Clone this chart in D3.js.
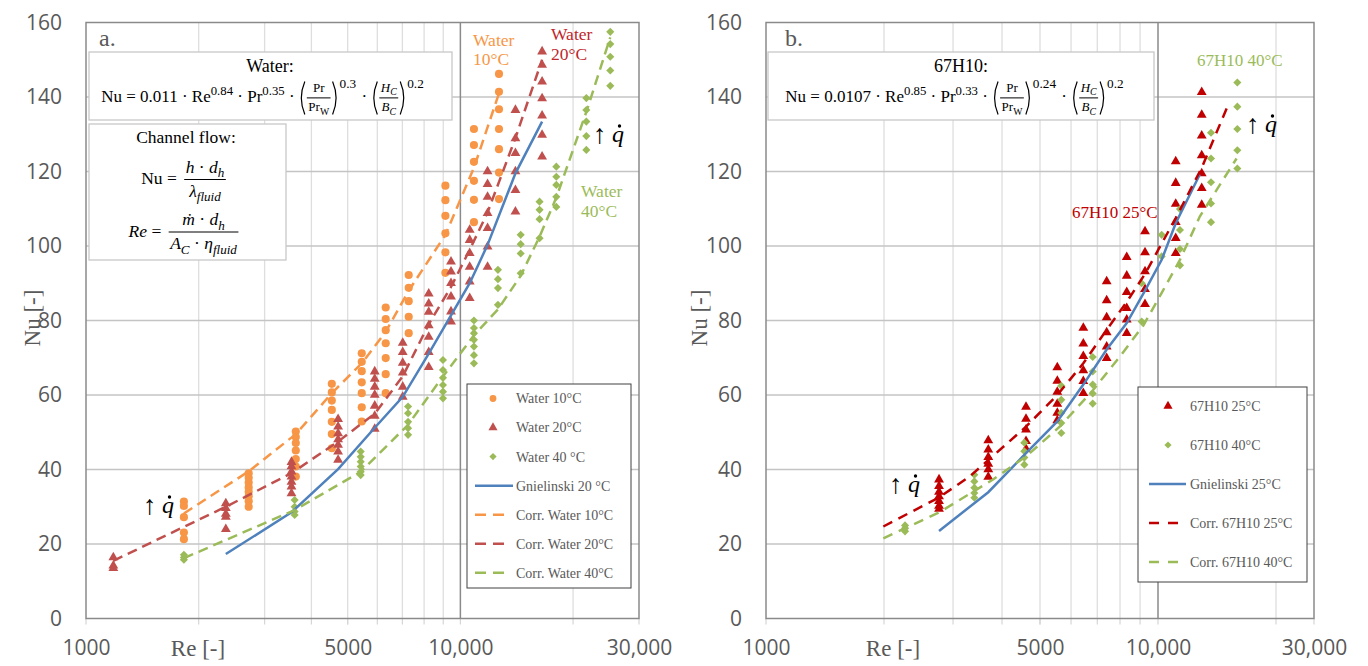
<!DOCTYPE html>
<html>
<head>
<meta charset="utf-8">
<script src="https://cdn.jsdelivr.net/npm/d3@7"></script>
<style>
  body { margin: 0; background: #fff; }
  svg text { font-family: "Liberation Serif", "DejaVu Serif", serif; }
</style>
</head>
<body>
<div id="chart"></div>
<script>
// ---------- panel a: water (Re column, Nu values per column) ----------
var water10Re = [1826, 2720, 3634, 4535, 5452, 6318, 7278, 9120, 10870, 12680];
var water10Nu = [
  [31.4, 30.2, 27.2, 23.1, 21.3],
  [39.0, 37.8, 36.5, 35.2, 34.0, 32.8, 31.5, 30.0],
  [50.2, 48.7, 47.1, 45.1, 42.8, 40.8, 38.1],
  [63.0, 60.7, 58.5, 56.0, 52.8, 49.5, 45.7],
  [71.2, 68.9, 66.4, 63.4, 60.5, 56.7, 52.9],
  [83.5, 80.4, 77.4, 73.9, 69.9, 65.6, 60.5],
  [92.2, 88.8, 85.2, 81.0, 76.6],
  [116.2, 112.3, 108.1, 103.4, 98.3, 92.8],
  [131.4, 127.1, 122.6, 117.5, 112.4, 106.4],
  [146.2, 141.4, 136.7, 131.4, 126.0, 119.7, 112.6]
];
var corrWater10Nu = [28.2, 39.5, 49.5, 60.5, 68.5, 77, 88, 103, 121, 141];

var water20Re = [1183, 2363, 3539, 4714, 5905, 7015, 8231, 9440, 10590, 11820, 14030, 16530];
var water20Nu = [
  [16.4, 14.2, 13.5],
  [30.9, 29.6, 28.1, 27.3, 24.0],
  [42.0, 40.8, 39.4, 38.1, 36.7, 35.4, 33.6],
  [53.5, 51.5, 49.7, 48.1, 46.6, 44.8, 42.6],
  [66.3, 64.3, 62.2, 60.0, 57.1, 54.4, 50.9],
  [74.0, 71.5, 68.6, 66.0, 62.2, 59.5],
  [87.2, 84.5, 82.3, 78.7, 75.6, 71.5, 67.5],
  [95.8, 93.1, 90.0, 86.4, 82.4, 79.7],
  [104.3, 101.6, 98.1, 94.4, 90.4, 86.0],
  [120.0, 116.6, 113.2, 108.8, 104.8, 99.8, 94.4],
  [136.5, 128.9, 124.9, 120.0, 115.0, 109.2],
  [152.2, 148.6, 144.1, 139.6, 135.0, 129.8, 124.0]
];
var corrWater20Nu = [15.5, 30, 39, 47.5, 55, 65, 79, 89, 99, 109, 129, 150];

var water40Re = [1826, 3608, 5417, 7249, 8985, 10870, 12600, 14490, 16275, 18040, 21700, 25140];
var water40Nu = [
  [17.1, 16.4, 15.8],
  [31.8, 30.0, 28.7, 27.8],
  [44.8, 43.4, 42.1, 40.8, 39.4, 38.5],
  [56.9, 55.1, 52.8, 51.1, 49.3],
  [69.4, 66.7, 64.6, 62.7, 60.9, 59.1],
  [80.0, 78.0, 76.6, 74.8, 73.0, 70.7, 68.5],
  [93.6, 91.1, 88.7, 84.2],
  [103.0, 100.5, 98.0, 92.7],
  [111.9, 109.7, 107.2, 102.1],
  [121.3, 118.6, 116.4, 113.2, 110.5],
  [139.7, 136.5, 133.4, 129.5, 125.8],
  [157.5, 154.2, 150.8, 147.1, 143.0]
];
var corrWater40Nu = [16.2, 29.1, 39.4, 52, 65, 76, 83, 92, 102.5, 113, 136, 156];

var gnielinski20Re = [2363, 3539, 4714, 5905, 7015, 8231, 9440, 10590, 11820, 14030, 16530];
var gnielinski20Nu = [17.3, 28.5, 40.1, 51.2, 59.5, 71.1, 81.4, 90.0, 100.3, 119.5, 133.4];

// ---------- panel b: 67H10 ----------
var h25Re = [2763, 3690, 4606, 5535, 6449, 7397, 8322, 9265, 11097, 12928];
var h25Nu = [
  [37.3, 35.5, 34.0, 32.8, 31.5, 30.2, 29.4],
  [47.8, 45.3, 43.3, 41.5, 40.0, 38.0],
  [56.8, 53.6, 50.7, 47.6, 45.5],
  [67.4, 63.8, 60.8, 57.6, 55.2, 53.2],
  [78.0, 73.8, 70.4, 66.6, 63.7, 60.5],
  [90.5, 85.4, 80.8, 76.8, 73.0, 69.9],
  [97.0, 92.0, 87.6, 83.3, 80.2, 76.6],
  [103.9, 98.3, 93.2, 88.4, 84.4],
  [122.7, 116.9, 111.3, 106.4, 102.1, 98.1],
  [141.3, 135.2, 129.6, 124.3, 119.5, 115.5, 111.0]
];
var h40Re = [2263, 3400, 4560, 5666, 6815, 9086, 10218, 11378, 13652, 15936];
var h40Nu = [
  [25.0, 24.2, 23.4],
  [38.6, 36.8, 35.1, 33.7, 32.4],
  [47.2, 44.9, 43.2, 41.3],
  [62.5, 58.7, 55.2, 52.5, 49.8],
  [70.2, 66.3, 62.8, 60.4, 57.7],
  [90.0, 79.7],
  [103.0, 97.2],
  [109.9, 104.3, 99.2, 94.8],
  [130.4, 123.5, 117.1, 111.4, 106.4],
  [143.9, 137.4, 131.4, 125.7, 120.8]
];
var gnielinski25Re = [2763, 3690, 4606, 5535, 6449, 7397, 8322, 9265, 10218, 11097, 12780];
var gnielinski25Nu = [23.5, 33.9, 44.4, 52.9, 62.8, 72.2, 79.3, 88.0, 96.3, 106.1, 119.2];
var corr25Re = [1992, 2763, 3316, 4606, 5535, 6449, 7397, 8322, 9265, 11097, 12928, 15114];
var corr25Nu = [24.7, 32.5, 38.2, 51.5, 60, 68.5, 77.5, 85, 92.5, 107.5, 121, 138];
var corr40Re = [1992, 2777, 3794, 4606, 5627, 6840, 8004, 9165, 10218, 11378, 12780, 15866];
var corr40Nu = [21.5, 28.6, 37.3, 43.5, 51.6, 61.4, 70.4, 78.6, 87.4, 96.3, 107.9, 123.5];

// ---------- axes ----------
var yTicks = [0, 20, 40, 60, 80, 100, 120, 140, 160];
var xGrid = [2000, 3000, 4000, 5000, 6000, 7000, 8000, 9000, 20000];
var xTicksA = [1000, 5000, 10000, 30000];
var xTicksB = [1000, 5000, 10000, 25000];   // panel b axis stops at 25,000 but the end label reads 30,000
var xTickText = ["1000", "5000", "10,000", "30,000"];

var orange = "#F79646", red = "#C0504D", green = "#9BBB59", blue = "#4F81BD", darkRed = "#C00000",
    grey = "#595959";

var svg = d3.select("#chart").append("svg")
    .attr("width", 1368)
    .attr("height", 666);

var y = d3.scaleLinear().domain([0, 160]).range([618.5, 22.5]);
var xA = d3.scaleLog().domain([1000, 30000]).range([86, 639]);
var xB = d3.scaleLog().domain([1000, 25000]).range([766, 1314]);

function drawFrame(x, ticks) {
  var g = svg.append("g");
  var x0 = x.range()[0], x1 = x.range()[1];

  g.selectAll(null).data(xGrid).enter().append("line")
    .attr("x1", x).attr("x2", x)
    .attr("y1", y(0)).attr("y2", y(160))
    .attr("stroke", "#dedede").attr("stroke-width", 1.3);

  // little marks below the axis
  g.selectAll(null).data(xGrid.concat(ticks)).enter().append("line")
    .attr("x1", x).attr("x2", x)
    .attr("y1", y(0)).attr("y2", y(0) + 6)
    .attr("stroke", "#d6d6d6").attr("stroke-width", 1.2);

  g.selectAll(null).data(yTicks.slice(1, -1)).enter().append("line")
    .attr("x1", x0).attr("x2", x1)
    .attr("y1", y).attr("y2", y)
    .attr("stroke", "#c4c4c4").attr("stroke-width", 1.3);

  g.append("line")
    .attr("x1", x(10000)).attr("x2", x(10000))
    .attr("y1", y(0)).attr("y2", y(160))
    .attr("stroke", "#8a8a8a").attr("stroke-width", 1.5);

  g.append("rect")
    .attr("x", x0).attr("y", y(160))
    .attr("width", x1 - x0).attr("height", y(0) - y(160))
    .attr("fill", "none").attr("stroke", "#8a8a8a").attr("stroke-width", 1.5);

  var ax = svg.append("g")
    .attr("transform", "translate(0," + y(0) + ")")
    .call(d3.axisBottom(x).tickValues(ticks)
      .tickFormat(function(d, i) { return xTickText[i]; })
      .tickSize(0).tickPadding(22));
  ax.select(".domain").remove();

  var ay = svg.append("g")
    .attr("transform", "translate(" + x0 + ",0)")
    .call(d3.axisLeft(y).tickValues(yTicks).tickSize(0).tickPadding(24));
  ay.select(".domain").remove();

  svg.selectAll(".tick text")
    .style("font-family", "'Open Sans', sans-serif")
    .style("font-size", "21px")
    .attr("fill", grey);
}

function drawColumns(g, x, reArr, nuArr, type, size, color, rotate) {
  var pts = [];
  reArr.forEach(function(re, i) {
    nuArr[i].forEach(function(nu) { pts.push([re, nu]); });
  });
  g.selectAll(null).data(pts).enter().append("path")
    .attr("d", d3.symbol().type(type).size(size))
    .attr("transform", function(d) {
      return "translate(" + x(d[0]) + "," + y(d[1]) + ")" + (rotate ? " rotate(45)" : "");
    })
    .attr("fill", color);
}

function drawLine(g, x, reArr, nuArr, color, dash) {
  g.append("path")
    .datum(d3.zip(reArr, nuArr))
    .attr("d", d3.line().x(function(d) { return x(d[0]); }).y(function(d) { return y(d[1]); }))
    .attr("fill", "none")
    .attr("stroke", color)
    .attr("stroke-width", 2.5)
    .attr("stroke-dasharray", dash);
}

drawFrame(xA, xTicksA);
drawFrame(xB, xTicksB);

var dataA = svg.append("g");
drawColumns(dataA, xA, water10Re, water10Nu, d3.symbolCircle, 52, orange);
drawColumns(dataA, xA, water20Re, water20Nu, d3.symbolTriangle, 42, red);
drawColumns(dataA, xA, water40Re, water40Nu, d3.symbolSquare, 33, green, true);
drawLine(dataA, xA, gnielinski20Re, gnielinski20Nu, blue, null);
drawLine(dataA, xA, water10Re, corrWater10Nu, orange, "10,6");
drawLine(dataA, xA, water20Re, corrWater20Nu, red, "10,6");
drawLine(dataA, xA, water40Re, corrWater40Nu, green, "10,6");

var dataB = svg.append("g");
drawColumns(dataB, xB, h25Re, h25Nu, d3.symbolTriangle, 42, darkRed);
drawColumns(dataB, xB, h40Re, h40Nu, d3.symbolSquare, 33, green, true);
drawLine(dataB, xB, gnielinski25Re, gnielinski25Nu, blue, null);
drawLine(dataB, xB, corr25Re, corr25Nu, darkRed, "10,7");
drawLine(dataB, xB, corr40Re, corr40Nu, green, "10,7");

// ---------- axis titles and panel letters ----------
function label(x, yy, txt, size, color, anchor) {
  return svg.append("text")
    .attr("x", x).attr("y", yy)
    .attr("text-anchor", anchor || "start")
    .style("font-size", size + "px")
    .attr("fill", color)
    .text(txt);
}
label(198, 656, "Re [-]", 23, grey, "middle");
label(893, 656, "Re [-]", 23, grey, "middle");
label(0, 0, "Nu [-]", 23, grey, "middle").attr("transform", "translate(40,318) rotate(-90)");
label(0, 0, "Nu [-]", 23, grey, "middle").attr("transform", "translate(707,318) rotate(-90)");
label(99, 46, "a.", 24, grey);
label(785, 46, "b.", 24, grey);

// series annotations
label(473, 46, "Water", 17.5, orange);
label(473, 65, "10°C", 17.5, orange);
label(551, 40, "Water", 17.5, "#C0262B");
label(551, 60, "20°C", 17.5, "#C0262B");
label(581, 197, "Water", 17.5, green);
label(581, 217, "40°C", 17.5, green);
label(1072, 218, "67H10 25°C", 17, darkRed);
label(1197, 66, "67H10 40°C", 17, green);

function qdot(x, yb) {
  label(x - 1, yb + 1, "↑", 27, "#000");
  label(x + 18, yb, "q", 24, "#000").style("font-style", "italic");
  svg.append("circle").attr("cx", x + 25.5).attr("cy", yb - 16).attr("r", 1.7).attr("fill", "#000");
}
qdot(594, 142);
qdot(144, 513);
qdot(890, 492);
qdot(1247, 132);

// ---------- equation boxes ----------
function addRuns(text, runs, fs) {
  var shift = 0;
  runs.forEach(function(r) {
    var f = r[1] || "";
    var target = f.indexOf("p") >= 0 ? -0.4 * fs : (f.indexOf("b") >= 0 ? 0.28 * fs : 0);
    text.append("tspan")
      .attr("dy", target - shift)
      .style("font-size", (target ? fs * 0.75 : fs) + "px")
      .style("font-style", f.indexOf("i") >= 0 ? "italic" : null)
      .text(r[0]);
    shift = target;
  });
}

function equation(cx, yb, items, fs, ffs, geo) {
  var g = svg.append("g");
  var x = 0;
  items.forEach(function(it) {
    if (it.runs) {
      var t = g.append("text").attr("x", x).attr("y", yb)
        .style("font-size", fs + "px").style("white-space", "pre");
      addRuns(t, it.runs, fs);
      x += t.node().getComputedTextLength();
      return;
    }
    var gx = x + (it.paren ? 8 : 3);
    var num = g.append("text").attr("y", yb + geo.num).attr("text-anchor", "middle")
      .style("font-size", ffs + "px").style("white-space", "pre");
    addRuns(num, it.num, ffs);
    var den = g.append("text").attr("y", yb + geo.den).attr("text-anchor", "middle")
      .style("font-size", ffs + "px").style("white-space", "pre");
    addRuns(den, it.den, ffs);
    var w = Math.max(num.node().getComputedTextLength(), den.node().getComputedTextLength()) + 3;
    num.attr("x", gx + w / 2);
    den.attr("x", gx + w / 2);
    g.append("line")
      .attr("x1", gx).attr("x2", gx + w)
      .attr("y1", yb + geo.bar).attr("y2", yb + geo.bar)
      .attr("stroke", "#000").attr("stroke-width", 1);
    x = gx + w + 3;
    if (it.paren) {
      var top = yb - 20, bot = yb + 13, mid = (top + bot) / 2;
      g.append("path")
        .attr("d", "M" + (gx - 2) + "," + top + "Q" + (gx - 9) + "," + mid + " " + (gx - 2) + "," + bot)
        .attr("fill", "none").attr("stroke", "#000").attr("stroke-width", 1.2);
      g.append("path")
        .attr("d", "M" + (gx + w + 2) + "," + top + "Q" + (gx + w + 9) + "," + mid + " " + (gx + w + 2) + "," + bot)
        .attr("fill", "none").attr("stroke", "#000").attr("stroke-width", 1.2);
      x = gx + w + 8;
    }
    if (it.sup) {
      var s = g.append("text").attr("x", x + 1).attr("y", yb - 14)
        .style("font-size", (fs * 0.78) + "px").text(it.sup);
      x += s.node().getComputedTextLength() + 2;
    }
  });
  g.attr("transform", "translate(" + (cx - x / 2) + ",0)");
}

function box(x, yy, w, h, stroke) {
  svg.append("rect")
    .attr("x", x).attr("y", yy).attr("width", w).attr("height", h)
    .attr("fill", "#fff").attr("stroke", stroke).attr("stroke-width", 1.3);
}

var smallFrac = { num: -9.8, bar: -3.6, den: 9.6 };
var bigFrac = { num: -11.5, bar: -4.5, den: 12.5 };

box(89, 52, 363, 68, "#c8c8c8");
label(270, 71.5, "Water:", 18, "#000", "middle");
equation(263, 101.5, [
  { runs: [["Nu = 0.011 · Re"], ["0.84", "p"], [" · Pr"], ["0.35", "p"], [" · "]] },
  { paren: true, num: [["Pr"]], den: [["Pr"], ["W", "b"]], sup: "0.3" },
  { runs: [[" · "]] },
  { paren: true, num: [["H", "i"], ["C", "ib"]], den: [["B", "i"], ["C", "ib"]], sup: "0.2" }
], 17, 13, smallFrac);

box(89, 124, 197, 136, "#c8c8c8");
label(186, 143, "Channel flow:", 17.5, "#000", "middle");
equation(185, 184, [
  { runs: [["Nu = "]] },
  { num: [["h", "i"], [" · "], ["d", "i"], ["h", "ib"]], den: [["λ", "i"], ["fluid", "ib"]] }
], 17.5, 17.5, bigFrac);
equation(185, 236.5, [
  { runs: [["Re", "i"], [" = "]] },
  { num: [["ṁ", "i"], [" · "], ["d", "i"], ["h", "ib"]],
    den: [["A", "i"], ["C", "ib"], [" · "], ["η", "i"], ["fluid", "ib"]] }
], 17.5, 17.5, bigFrac);

box(768, 52, 386, 68, "#c8c8c8");
label(961, 71.5, "67H10:", 18, "#000", "middle");
equation(955, 101.5, [
  { runs: [["Nu = 0.0107 · Re"], ["0.85", "p"], [" · Pr"], ["0.33", "p"], [" · "]] },
  { paren: true, num: [["Pr"]], den: [["Pr"], ["W", "b"]], sup: "0.24" },
  { runs: [[" · "]] },
  { paren: true, num: [["H", "i"], ["C", "ib"]], den: [["B", "i"], ["C", "ib"]], sup: "0.2" }
], 17, 13, smallFrac);

// ---------- legends ----------
var legendA = [
  { name: "Water 10°C", sym: d3.symbolCircle, color: orange },
  { name: "Water 20°C", sym: d3.symbolTriangle, color: red },
  { name: "Water 40 °C", sym: d3.symbolSquare, color: green, rot: true },
  { name: "Gnielinski 20 °C", color: blue },
  { name: "Corr. Water 10°C", color: orange, dash: true },
  { name: "Corr. Water 20°C", color: red, dash: true },
  { name: "Corr. Water 40°C", color: green, dash: true }
];
var legendB = [
  { name: "67H10 25°C", sym: d3.symbolTriangle, color: darkRed },
  { name: "67H10 40°C", sym: d3.symbolSquare, color: green, rot: true },
  { name: "Gnielinski 25°C", color: blue },
  { name: "Corr. 67H10 25°C", color: darkRed, dash: true },
  { name: "Corr. 67H10 40°C", color: green, dash: true }
];

function drawLegend(entries, bx, by, bw, bh, row0, step, symX, l0, l1, ld1, dash, textX) {
  svg.append("rect")
    .attr("x", bx).attr("y", by).attr("width", bw).attr("height", bh)
    .attr("fill", "#fff").attr("stroke", "#404040").attr("stroke-width", 1);
  var rows = svg.selectAll(null).data(entries).enter().append("g")
    .attr("transform", function(d, i) { return "translate(0," + (row0 + i * step) + ")"; });
  rows.filter(function(d) { return d.sym; }).append("path")
    .attr("d", function(d) { return d3.symbol().type(d.sym).size(d.rot ? 26 : 36)(); })
    .attr("transform", function(d) { return "translate(" + symX + ",0)" + (d.rot ? " rotate(45)" : ""); })
    .attr("fill", function(d) { return d.color; });
  rows.filter(function(d) { return !d.sym; }).append("line")
    .attr("x1", l0).attr("x2", function(d) { return d.dash ? ld1 : l1; })
    .attr("y1", 0).attr("y2", 0)
    .attr("stroke", function(d) { return d.color; })
    .attr("stroke-width", 2.5)
    .attr("stroke-dasharray", function(d) { return d.dash ? dash : null; });
  rows.append("text")
    .attr("x", textX).attr("dy", "0.35em")
    .style("font-size", "14px")
    .attr("fill", grey)
    .text(function(d) { return d.name; });
}
drawLegend(legendA, 467, 384, 164, 204, 398.5, 29.05, 493, 475, 513, 505, "11,7", 516);
drawLegend(legendB, 1138, 387, 169, 195, 406, 39, 1168, 1149, 1186, 1179, "10,9", 1190);
</script>
</body>
</html>
